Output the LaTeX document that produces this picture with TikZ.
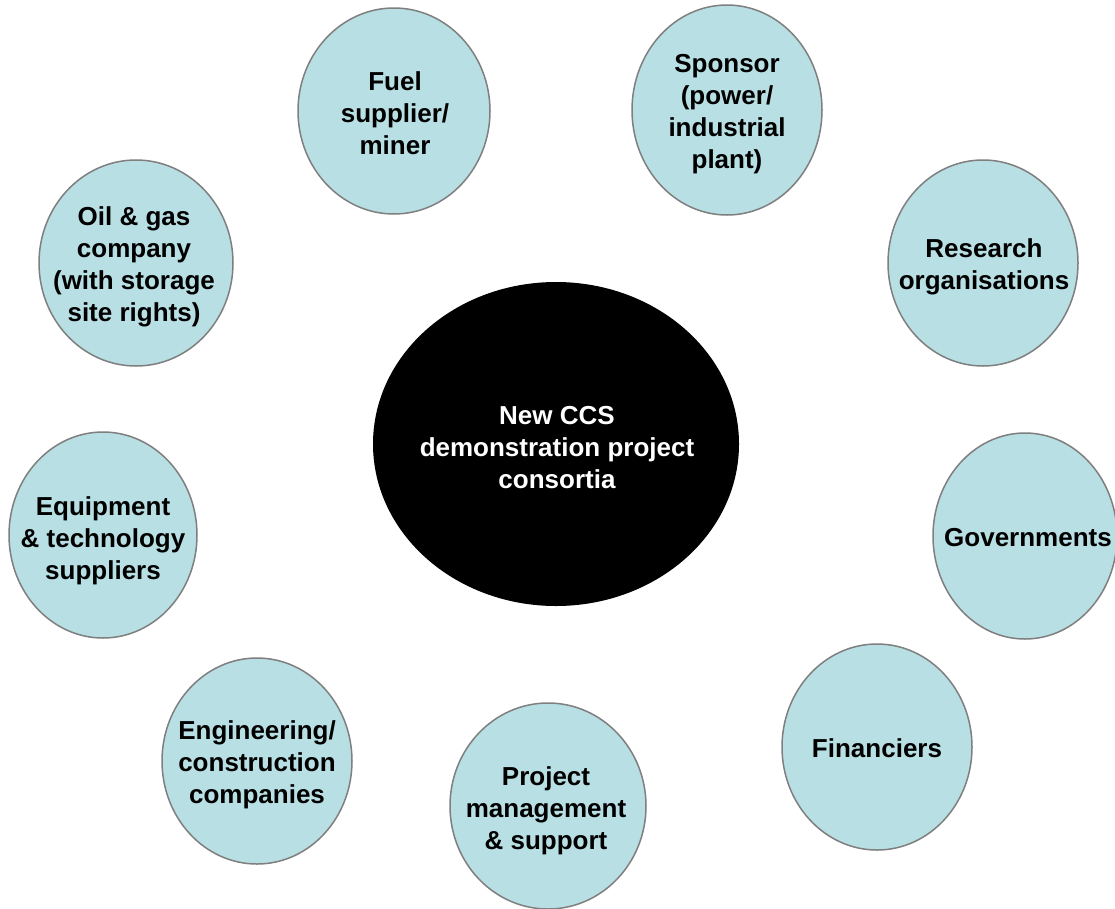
\documentclass[tikz,border=0pt]{standalone}
\usepackage{fontspec}
\setmainfont{Liberation Sans}
\usetikzlibrary{shapes.geometric}
\definecolor{bubfill}{HTML}{B8DFE3}
\definecolor{bubline}{HTML}{7F7F7F}
\tikzset{
  bub/.style={ellipse, draw=bubline, fill=bubfill, line width=1.5pt, inner sep=0pt},
  hub/.style={ellipse, fill=black, inner sep=0pt},
  txt/.style={align=center, font=\bfseries\fontsize{26}{32}\selectfont, inner sep=0pt},
}
\begin{document}
\begin{tikzpicture}[x=1pt,y=-1pt]
\useasboundingbox (0,0) rectangle (1115,908);
\fill[white] (0,0) rectangle (1115,908);
% centre
\node[hub, minimum width=366pt, minimum height=324pt] (hub) at (556,444) {};
\node[txt, text=white] (hubt) at (557,448) {New CCS\\demonstration project\\consortia};
% satellites
\node[bub, minimum width=192pt, minimum height=206pt] (fuel) at (394,111) {};
\node[txt] (fuelt) at (395,113) {Fuel\\supplier/\\miner};
\node[bub, minimum width=190pt, minimum height=210pt] (spon) at (727,110) {};
\node[txt] (spont) at (727,114) {Sponsor\\(power/\\industrial\\plant)};
\node[bub, minimum width=194pt, minimum height=206pt] (oil) at (136,263) {};
\node[txt] (oilt) at (134,267) {Oil \& gas\\company\\(with storage\\site rights)};
\node[bub, minimum width=190pt, minimum height=206pt] (res) at (983,263) {};
\node[txt] (rest) at (984,267) {Research\\organisations};
\node[bub, minimum width=188pt, minimum height=206pt] (equip) at (103,535) {};
\node[txt] (equipt) at (103,541) {Equipment\\\& technology\\suppliers};
\node[bub, minimum width=184pt, minimum height=206pt] (gov) at (1025,536) {};
\node[txt] (govt) at (1028,538) {Governments};
\node[bub, minimum width=190pt, minimum height=206pt] (eng) at (257,761) {};
\node[txt] (engt) at (257,765) {Engineering/\\construction\\companies};
\node[bub, minimum width=196pt, minimum height=206pt] (proj) at (548,806) {};
\node[txt] (projt) at (546,811) {Project\\management\\\& support};
\node[bub, minimum width=190pt, minimum height=206pt] (fin) at (877,747) {};
\node[txt] (fint) at (877,748) {Financiers};
\end{tikzpicture}
\end{document}
